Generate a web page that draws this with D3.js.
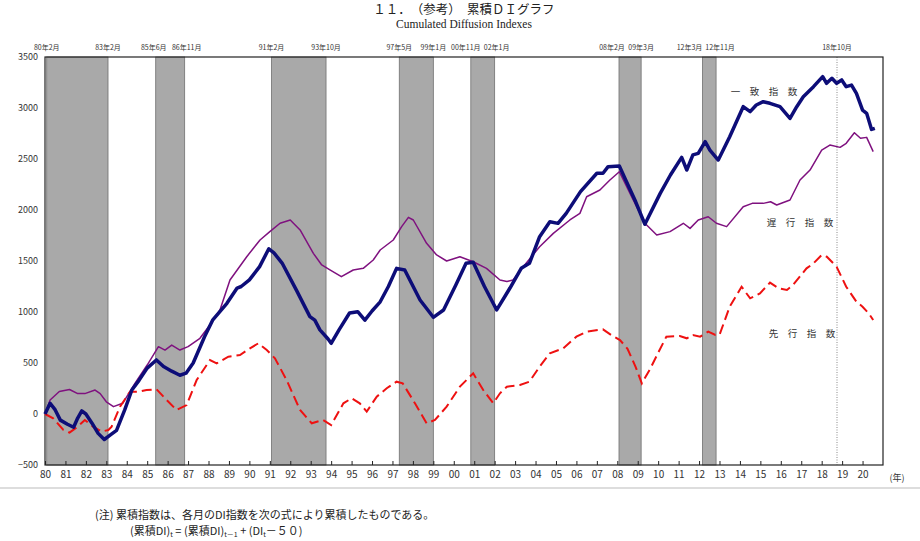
<!DOCTYPE html>
<html><head><meta charset="utf-8">
<script src="https://cdn.jsdelivr.net/npm/d3@7"></script>
<style>
html,body{margin:0;padding:0;background:#fff;}
svg{display:block;}
</style></head>
<body><svg id="c" width="920" height="541"></svg>
<script>
// ---- data ----
const yearTicks = d3.range(1980, 2021);
const yTicks = [-500, 0, 500, 1000, 1500, 2000, 2500, 3000, 3500];
// recession bands [start, end] as year + (month-1)/12
const bandStarts = [1980 + 1/12, 1985 + 5/12, 1991 + 1/12, 1997 + 4/12, 2000 + 10/12, 2008 + 1/12, 2012 + 2/12];
const bandEnds   = [1983 + 1/12, 1986 + 10/12, 1993 + 9/12, 1999 + 0/12, 2002 + 0/12, 2009 + 2/12, 2012 + 10/12];
const openPeak = 2018 + 9/12;
const edgeLabels = ["80年2月","83年2月","85年6月","86年11月","91年2月","93年10月","97年5月","99年1月","00年11月","02年1月","08年2月","09年3月","12年3月","12年11月","18年10月"];

const coincident = [
[1980.0,0],[1980.25,105],[1980.5,40],[1980.75,-60],[1981.1,-100],[1981.4,-130],[1981.6,-40],[1981.8,30],[1982.0,0],
[1982.3,-90],[1982.6,-190],[1982.9,-250],[1983.2,-205],[1983.5,-160],[1983.9,40],[1984.25,235],[1984.6,330],[1985.0,450],
[1985.45,530],[1985.8,465],[1986.2,420],[1986.6,380],[1986.9,400],[1987.25,500],[1987.8,755],[1988.2,920],[1988.9,1085],
[1989.4,1235],[1989.6,1250],[1990.0,1315],[1990.5,1445],[1990.95,1620],[1991.2,1580],[1991.6,1480],[1992.3,1215],
[1992.96,955],[1993.2,920],[1993.45,825],[1993.85,735],[1994.0,693],[1994.4,830],[1994.9,990],[1995.3,1003],[1995.65,920],
[1996.0,1010],[1996.4,1100],[1996.8,1250],[1997.2,1428],[1997.6,1412],[1998.35,1118],[1999.0,948],[1999.5,1020],
[2000.1,1265],[2000.6,1477],[2000.95,1487],[2001.5,1250],[2002.1,1020],[2002.75,1235],[2003.3,1428],[2003.7,1477],
[2004.2,1738],[2004.7,1885],[2005.1,1869],[2005.5,1967],[2006.2,2180],[2007.0,2360],[2007.3,2360],[2007.55,2425],
[2008.1,2431],[2008.4,2300],[2008.9,2080],[2009.35,1860],[2010.1,2163],[2010.6,2343],[2011.15,2516],[2011.4,2392],
[2011.7,2540],[2011.96,2555],[2012.3,2670],[2012.53,2588],[2012.94,2490],[2013.5,2719],[2014.16,3013],[2014.5,2964],
[2014.8,3029],[2015.14,3062],[2015.47,3046],[2015.96,3013],[2016.45,2899],[2016.78,3013],[2017.1,3111],[2017.6,3209],
[2018.05,3307],[2018.24,3242],[2018.5,3291],[2018.73,3242],[2018.98,3275],[2019.2,3209],[2019.46,3225],[2019.7,3144],
[2020.0,2980],[2020.2,2948],[2020.44,2790],[2020.6,2801]
];
const lagging = [
[1980.0,0],[1980.25,137],[1980.7,220],[1981.2,240],[1981.6,200],[1981.95,200],[1982.45,235],[1982.7,200],[1983.0,120],
[1983.35,72],[1983.8,105],[1984.4,300],[1985.0,480],[1985.55,660],[1985.87,627],[1986.2,676],[1986.6,627],[1987.0,660],
[1987.58,742],[1988.07,873],[1988.56,1020],[1989.05,1314],[1989.87,1542],[1990.52,1706],[1991.0,1788],[1991.5,1870],
[1992.0,1902],[1992.48,1804],[1993.13,1575],[1993.54,1461],[1993.94,1412],[1994.5,1346],[1995.08,1412],[1995.57,1428],
[1996.06,1510],[1996.4,1608],[1997.04,1706],[1997.45,1837],[1997.78,1928],[1998.02,1902],[1998.67,1673],[1999.16,1559],
[1999.65,1500],[2000.3,1542],[2000.95,1493],[2001.6,1428],[2002.26,1314],[2002.6,1300],[2002.9,1314],[2003.4,1444],
[2004.2,1640],[2004.87,1771],[2005.68,1902],[2006.17,1967],[2006.5,2130],[2007.15,2196],[2007.64,2294],[2008.1,2375],
[2008.78,2098],[2009.35,1870],[2009.93,1755],[2010.58,1788],[2011.23,1870],[2011.56,1820],[2011.96,1902],[2012.45,1934],
[2012.85,1870],[2013.35,1837],[2014.16,2032],[2014.6,2065],[2015.14,2065],[2015.5,2081],[2015.8,2049],[2016.45,2098],
[2016.94,2294],[2017.43,2392],[2018.0,2588],[2018.4,2637],[2018.9,2614],[2019.2,2654],[2019.6,2758],[2019.9,2703],
[2020.2,2712],[2020.52,2572]
];
const leading = [
[1980.0,0],[1980.4,-42],[1980.9,-157],[1981.2,-183],[1981.6,-124],[1981.95,-59],[1982.35,-124],[1982.77,-173],[1983.1,-157],
[1983.26,-124],[1983.67,72],[1984.16,219],[1984.6,219],[1984.97,235],[1985.46,242],[1985.95,137],[1986.44,39],[1986.93,88],
[1987.42,333],[1988.07,529],[1988.4,497],[1988.97,562],[1989.54,578],[1990.03,644],[1990.44,693],[1990.85,627],[1991.25,546],
[1991.82,333],[1992.48,39],[1993.05,-91],[1993.6,-59],[1994.0,-108],[1994.6,105],[1995.0,154],[1995.4,105],[1995.74,23],
[1996.23,170],[1996.72,252],[1997.2,317],[1997.5,301],[1998.1,105],[1998.67,-91],[1999.08,-59],[1999.65,72],[2000.3,268],
[2000.95,399],[2001.44,235],[2001.93,105],[2002.26,203],[2002.6,268],[2003.24,284],[2003.7,317],[2004.2,464],[2004.7,595],
[2005.36,644],[2006.0,758],[2006.5,807],[2007.3,830],[2007.7,775],[2008.13,725],[2008.5,640],[2008.9,460],[2009.2,300],
[2009.6,440],[2010.0,600],[2010.4,758],[2011.06,764],[2011.4,742],[2011.7,775],[2012.05,758],[2012.45,807],[2012.8,775],
[2013.0,775],[2013.5,1052],[2014.08,1248],[2014.5,1134],[2014.98,1183],[2015.47,1288],[2015.9,1232],[2016.3,1216],
[2016.6,1265],[2017.26,1428],[2017.6,1477],[2018.0,1559],[2018.25,1542],[2018.73,1444],[2019.2,1248],[2019.7,1101],
[2020.0,1052],[2020.3,987],[2020.52,922]
];
const seriesNames = ["一　致　指　数", "遅　行　指　数", "先　行　指　数"];

// ---- drawing ----
const svg = d3.select("#c");
const JP = "'Noto Sans CJK JP', 'Noto Sans', sans-serif";
const L = 45, R = 883, T = 57, B = 465;
const x = d3.scaleLinear().domain([1980, 2021]).range([L, R]);
const y = d3.scaleLinear().domain([-500, 3500]).range([B, T]);

svg.append("rect").attr("width", 920).attr("height", 541).attr("fill", "#fff");

// title
svg.append("text").attr("x", 464).attr("y", 14).attr("text-anchor", "middle")
  .attr("font-family", JP).attr("font-size", 12.5).attr("fill", "#222")
  .text("１１．　（参考）　累積ＤＩグラフ");
svg.append("text").attr("x", 464).attr("y", 28).attr("text-anchor", "middle")
  .attr("font-family", "'Liberation Serif', serif").attr("font-size", 11.5).attr("fill", "#222")
  .text("Cumulated Diffusion Indexes");

// bands
const bands = bandStarts.map((s, i) => [s, bandEnds[i]]);
const gb = svg.append("g");
gb.selectAll("rect").data(bands).join("rect")
  .attr("x", d => x(d[0])).attr("width", d => x(d[1]) - x(d[0]))
  .attr("y", T).attr("height", B - T)
  .attr("fill", "#a9a9a9").attr("stroke", "#707070").attr("stroke-width", 0.8);
svg.append("line").attr("x1", x(openPeak)).attr("x2", x(openPeak)).attr("y1", T).attr("y2", B)
  .attr("stroke", "#8a8a8a").attr("stroke-width", 1).attr("stroke-dasharray", "1,1.5");

// edge labels
const edges = [];
bands.forEach(b => { edges.push(b[0]); edges.push(b[1]); });
edges.push(openPeak);
const nudge = {"85年6月": -2, "86年11月": 2, "00年11月": -5, "02年1月": 2, "08年2月": -7, "12年3月": -13, "12年11月": 4};
svg.append("g").selectAll("text").data(edges).join("text")
  .attr("x", (d, i) => x(d) + (nudge[edgeLabels[i]] || 0)).attr("y", 50)
  .attr("text-anchor", "middle").attr("font-family", JP).attr("font-size", 7).attr("fill", "#333")
  .text((d, i) => edgeLabels[i]);

// frame
svg.append("rect").attr("x", L).attr("y", T).attr("width", R - L).attr("height", B - T)
  .attr("fill", "none").attr("stroke", "#222").attr("stroke-width", 1.2);

// axes
const xAxis = d3.axisBottom(x).tickValues(yearTicks).tickSize(-4)
  .tickFormat(d => String(d % 100).padStart(2, "0"));
const gx = svg.append("g").attr("transform", `translate(0,${B})`).call(xAxis);
gx.select(".domain").remove();
gx.selectAll("line").attr("stroke", "#222");
gx.selectAll("text").attr("font-family", JP).attr("font-size", 10).attr("fill", "#333").attr("dy", "0.95em");

const yAxis = d3.axisLeft(y).tickValues(yTicks).tickSize(0).tickPadding(7).tickFormat(d3.format("d"));
const gy = svg.append("g").attr("transform", `translate(${L},0)`).call(yAxis);
gy.select(".domain").remove();
gy.selectAll("text").attr("font-family", JP).attr("font-size", 9).attr("fill", "#333");

svg.append("text").attr("x", 897).attr("y", 481).attr("text-anchor", "middle")
  .attr("font-family", JP).attr("font-size", 9).attr("fill", "#333").text("(年)");

svg.append("line").attr("x1", 0).attr("x2", 920).attr("y1", 488).attr("y2", 488)
  .attr("stroke", "#bbb").attr("stroke-width", 1);

// lines
const line = d3.line().x(d => x(d[0])).y(d => y(d[1]));
svg.append("path").datum(lagging).attr("d", line).attr("fill", "none")
  .attr("stroke", "#7f117f").attr("stroke-width", 1.5).attr("stroke-linejoin", "round");
svg.append("path").datum(leading).attr("d", line).attr("fill", "none")
  .attr("stroke", "#ee1111").attr("stroke-width", 2).attr("stroke-dasharray", "10,5");
svg.append("path").datum(coincident).attr("d", line).attr("fill", "none")
  .attr("stroke", "#0d0d78").attr("stroke-width", 3.5).attr("stroke-linejoin", "round");

// series labels
const labelPos = [[764, 95], [800, 226], [802, 337]];
svg.append("g").selectAll("text").data(seriesNames).join("text")
  .attr("x", (d, i) => labelPos[i][0]).attr("y", (d, i) => labelPos[i][1])
  .attr("text-anchor", "middle").attr("font-family", JP).attr("font-size", 9.5).attr("fill", "#333")
  .text(d => d);

// note
svg.append("text").attr("x", 95).attr("y", 519).attr("font-family", JP).attr("font-size", 11).attr("fill", "#222")
  .text("(注) 累積指数は、各月のDI指数を次の式により累積したものである。");
const f = svg.append("text").attr("x", 130).attr("y", 535).attr("font-family", JP).attr("font-size", 11).attr("fill", "#222");
f.append("tspan").text("(累積DI)");
f.append("tspan").attr("font-size", 7).attr("dy", 2).text("t");
f.append("tspan").attr("dy", -2).text(" = (累積DI)");
f.append("tspan").attr("font-size", 7).attr("dy", 2).text("t－1");
f.append("tspan").attr("dy", -2).text(" + (DI");
f.append("tspan").attr("font-size", 7).attr("dy", 2).text("t");
f.append("tspan").attr("dy", -2).text("－５０)");
</script></body></html>
